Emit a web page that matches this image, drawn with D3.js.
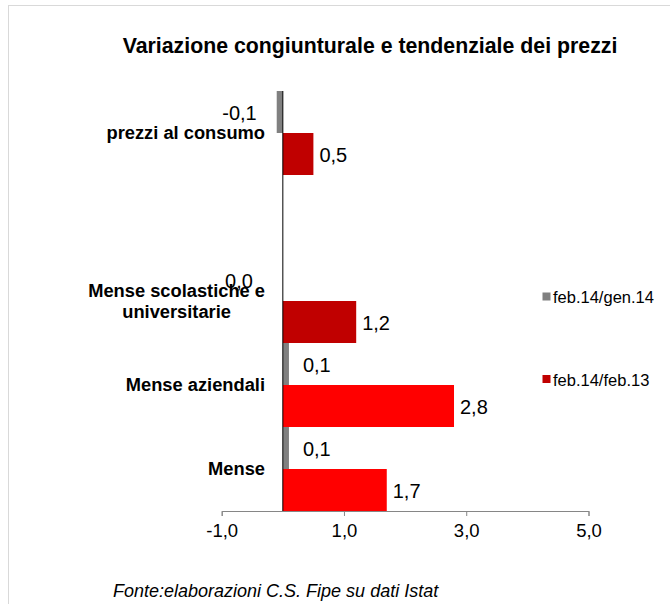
<!DOCTYPE html>
<html>
<head>
<meta charset="utf-8">
<script src="https://cdn.jsdelivr.net/npm/d3@7"></script>
<style>
    body { margin: 0; background: #fff; }
    svg text { font-family: "Liberation Sans", Arial, sans-serif; fill: #000; }
    .title { font-size: 21.3px; font-weight: bold; }
    .cat { font-size: 18.3px; font-weight: bold; }
    .val { font-size: 20px; }
    .leg { font-size: 16.5px; }
    .axis text { font-size: 18.5px; }
    .note { font-size: 18px; font-style: italic; }
</style>
</head>
<body>
<svg width="670" height="604"></svg>
<script>
    // categories top to bottom (one empty slot as in the original)
    var categories = ["prezzi al consumo", "", "Mense scolastiche e\nuniversitarie", "Mense aziendali", "Mense"];
    // feb.14/gen.14 (congiunturale)
    var congValues = [-0.1, null, 0.0, 0.1, 0.1];
    // feb.14/feb.13 (tendenziale)
    var tendValues = [0.5, null, 1.2, 2.8, 1.7];
    var seriesNames = ["feb.14/gen.14", "feb.14/feb.13"];
    var xTicks = [-1, 1, 3, 5];

    var grey = "#808080";
    var tendColors = ["#c00000", "#c00000", "#c00000", "#ff0000", "#ff0000"];

    var fmt = function(v) { return d3.format(".1f")(v).replace("\u2212", "-").replace(".", ","); };

    var svg = d3.select("svg");

    // chart frame
    svg.append("rect")
        .attr("x", 8.5).attr("y", 5.5)
        .attr("width", 700).attr("height", 700)
        .attr("fill", "none").attr("stroke", "#d9d9d9");

    svg.append("text").attr("class", "title")
        .attr("x", 370).attr("y", 52.5)
        .attr("text-anchor", "middle")
        .text("Variazione congiunturale e tendenziale dei prezzi");

    var x = d3.scaleLinear().domain([-1, 5]).range([221.7, 588.5]);
    var y = d3.scaleBand().domain(d3.range(categories.length)).range([91, 511]).padding(0);
    var sub = d3.scaleBand().domain([0, 1]).range([0, y.bandwidth()]);

    var rows = categories.map(function(c, i) {
        return { cat: c, i: i, cong: congValues[i], tend: tendValues[i] };
    });

    // grey bars
    svg.selectAll(".bar-cong")
        .data(rows.filter(function(d) { return d.cong !== null; }))
        .enter().append("rect")
        .attr("class", "bar-cong")
        .attr("x", function(d) { return x(Math.min(0, d.cong)); })
        .attr("y", function(d) { return y(d.i) + sub(0); })
        .attr("width", function(d) { return Math.abs(x(d.cong) - x(0)); })
        .attr("height", sub.bandwidth())
        .attr("fill", grey);

    // red bars
    svg.selectAll(".bar-tend")
        .data(rows.filter(function(d) { return d.tend !== null; }))
        .enter().append("rect")
        .attr("class", "bar-tend")
        .attr("x", function(d) { return x(Math.min(0, d.tend)); })
        .attr("y", function(d) { return y(d.i) + sub(1); })
        .attr("width", function(d) { return Math.abs(x(d.tend) - x(0)); })
        .attr("height", sub.bandwidth())
        .attr("fill", function(d) { return tendColors[d.i]; });

    // x axis
    var xAxis = svg.append("g").attr("class", "axis")
        .attr("transform", "translate(0,511)")
        .call(d3.axisBottom(x).tickValues(xTicks).tickSize(5).tickPadding(8).tickFormat(fmt));
    xAxis.selectAll("path, line").attr("stroke", "#868686");

    // vertical zero line
    svg.append("line")
        .attr("x1", x(0)).attr("x2", x(0))
        .attr("y1", 91).attr("y2", 511)
        .attr("stroke", "#000");

    // value labels - grey series
    svg.selectAll(".lab-cong")
        .data(rows.filter(function(d) { return d.cong !== null; }))
        .enter().append("text")
        .attr("class", "val")
        .attr("x", function(d) {
            if (d.cong > 0) return x(d.cong) + 14;
            if (d.cong < 0) return x(d.cong) - 20;
            return x(0) - 30;
        })
        .attr("y", function(d) { return y(d.i) + sub(0) + sub.bandwidth() / 2 + 1; })
        .attr("dy", "0.35em")
        .attr("text-anchor", function(d) { return d.cong > 0 ? "start" : "end"; })
        .text(function(d) { return fmt(d.cong); });

    // value labels - red series
    svg.selectAll(".lab-tend")
        .data(rows.filter(function(d) { return d.tend !== null; }))
        .enter().append("text")
        .attr("class", "val")
        .attr("x", function(d) { return x(d.tend) + 6; })
        .attr("y", function(d) { return y(d.i) + sub(1) + sub.bandwidth() / 2 + 1; })
        .attr("dy", "0.35em")
        .text(function(d) { return fmt(d.tend); });

    // category labels
    rows.forEach(function(d) {
        if (!d.cat) return;
        var lines = d.cat.split("\n");
        var cy = y(d.i) + y.bandwidth() / 2;
        var g = svg.append("g");
        var lh = 21.5;
        var texts = lines.map(function(l, k) {
            return g.append("text").attr("class", "cat")
                .attr("y", cy + (k - (lines.length - 1) / 2) * lh)
                .attr("dy", "0.35em")
                .text(l);
        });
        var maxW = d3.max(texts, function(t) { return t.node().getComputedTextLength(); });
        texts.forEach(function(t) {
            t.attr("x", 265 - maxW / 2).attr("text-anchor", "middle");
        });
    });

    // legend
    var legColors = [grey, "#c00000"];
    var legY = [296.5, 379];
    seriesNames.forEach(function(n, k) {
        svg.append("rect")
            .attr("x", 542.5).attr("y", legY[k] - 4)
            .attr("width", 8).attr("height", 8)
            .attr("fill", legColors[k]);
        svg.append("text").attr("class", "leg")
            .attr("x", 553).attr("y", legY[k] + 1)
            .attr("dy", "0.35em")
            .text(n);
    });

    svg.append("text").attr("class", "note")
        .attr("x", 113).attr("y", 597)
        .text("Fonte:elaborazioni C.S. Fipe su dati Istat");
</script>
</body>
</html>
